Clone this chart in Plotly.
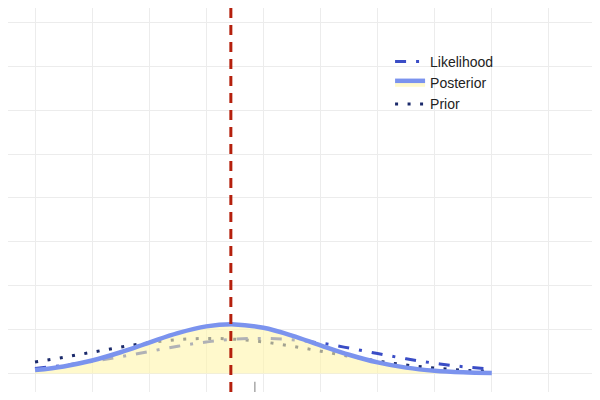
"""
Prior / likelihood / posterior density plot (Plotly).

Posterior fill sits on top of the prior and likelihood curves, so those show
through it greyed out. The dashed red line marks the posterior mean and the
little grey tick along the bottom is the observation.
"""

import plotly.graph_objects as go

# grid positions along the parameter axis
theta = [-4.0, -3.5, -3.0, -2.5, -2.0, -1.5, -1.0, -0.5, 0.0,
         0.5, 1.0, 1.5, 2.0, 2.5, 3.0, 3.5, 4.0]

prior = [0.0264, 0.0369, 0.0485, 0.0601, 0.0702, 0.0772, 0.0800, 0.0781, 0.0719,
         0.0623, 0.0509, 0.0392, 0.0284, 0.0194, 0.0125, 0.0076, 0.0043]
likelihood = [0.0116, 0.0184, 0.0274, 0.0382, 0.0502, 0.0620, 0.0718, 0.0782, 0.0800,
              0.0768, 0.0693, 0.0580, 0.0455, 0.0335, 0.0235, 0.0155, 0.0100]
posterior = [0.0079, 0.0162, 0.0296, 0.0484, 0.0706, 0.0921, 0.1074, 0.1119, 0.1041,
             0.0865, 0.0643, 0.0427, 0.0253, 0.0134, 0.0063, 0.0027, 0.0010]

posterior_mean = -0.57
observed = [-0.15]

NAVY = "#1b2a6b"
BLUE = "#3a4dc6"
LIGHT = "#7b93ee"


def curve(y, name, colour, width, dash, rank, **kw):
    return go.Scatter(
        x=theta, y=y, name=name, mode="lines", legendrank=rank,
        line=dict(color=colour, width=width, dash=dash, shape="spline"),
        **kw,
    )


fig = go.Figure([
    curve(prior, "Prior", NAVY, 3, "3px,9.5px", 3),
    curve(likelihood, "Likelihood", BLUE, 3, "11px,10px,3px,10px", 1),
    curve(posterior, "Posterior", LIGHT, 4.5, "solid", 2,
          fill="tozeroy", fillcolor="rgba(255,245,170,0.6)"),
    go.Scatter(x=observed, y=[-0.033] * len(observed), mode="markers",
               showlegend=False, hoverinfo="skip",
               marker=dict(symbol="line-ns", size=9,
                           line=dict(color="#a8a8a8", width=1.5))),
])

fig.add_vline(x=posterior_mean, line=dict(color="#b5200d", width=3,
                                          dash="10px,7px"))

# the page body adds 8px on the left and top, so margins are trimmed for it
fig.update_layout(
    width=600, height=400,
    margin=dict(l=0, r=14, t=0, b=16),
    plot_bgcolor="white", paper_bgcolor="white",
    font=dict(family="Liberation Sans, Arial, sans-serif", size=14,
              color="#222222"),
    xaxis=dict(range=[-4.473, 5.79], dtick=1, tick0=0, showticklabels=False,
               gridcolor="#ececec", zeroline=False, showline=False),
    yaxis=dict(range=[-0.0421, 0.8326], dtick=0.1, tick0=0,
               showticklabels=False, gridcolor="#ececec", zeroline=False,
               showline=False),
    legend=dict(x=0.652, y=0.901, xanchor="left", yanchor="top",
                bgcolor="rgba(0,0,0,0)", font=dict(size=14)),
    showlegend=True,
)

fig.write_html("out.html")
